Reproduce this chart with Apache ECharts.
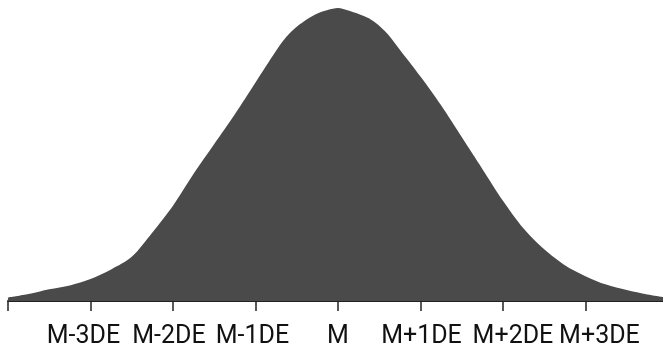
<!DOCTYPE html>
<html>
<head>
<meta charset="utf-8">
<script src="https://cdn.jsdelivr.net/npm/echarts@6/dist/echarts.min.js"></script>
<style>
  html, body { margin: 0; padding: 0; background: #fff; }
  #chart { width: 663px; height: 349px; }
</style>
</head>
<body>
<div id="chart"></div>
<script>
// distance from the mean, in standard deviations (DE)
const sigmas = [-4, -3.75, -3.5, -3.25, -3, -2.75, -2.5, -2.25, -2, -1.75, -1.5, -1.25, -1, -0.75, -0.625, -0.5, -0.375, -0.25, -0.125,
  0, 0.125, 0.25, 0.375, 0.5, 0.625, 0.75, 1, 1.25, 1.5, 1.75, 2, 2.25, 2.5, 2.75, 3, 3.25, 3.5, 3.75, 3.94]
// frequency
const freq = [3.5, 7, 11.8, 15.7, 22.2, 31.8, 44.5, 69, 96, 128, 158, 188, 220, 252, 266, 276, 283.6, 289.5, 293,
  295, 292.5, 289, 284.6, 277, 266.5, 253, 226, 197, 165, 133, 101, 73, 52, 36, 25, 16.5, 11, 6.5, 4]
// tick labels from -3 to +3
const tickLabels = ['M-3DE', 'M-2DE', 'M-1DE', 'M', 'M+1DE', 'M+2DE', 'M+3DE']

// labels sit a little off their ticks in the original
const labelShift = [-7, -4, -3, 0, 1, 10, 14]

const chart = echarts.init(document.getElementById('chart'))

const rich = {}
labelShift.forEach((d, i) => {
  rich['s' + i] = {
    fontFamily: 'Roboto',
    fontSize: 25,
    color: '#111',
    padding: d < 0 ? [0, -2 * d, 0, 0] : [0, 0, 0, 2 * d]
  }
})

const option = {
  animation: false,
  grid: { left: 8, right: 0, top: 3, bottom: 48 },
  xAxis: {
    type: 'value',
    min: -4,
    max: 3.94,
    interval: 1,
    splitLine: { show: false },
    axisLine: { lineStyle: { color: '#222', width: 2 } },
    axisTick: { length: 10, lineStyle: { color: '#222', width: 1.5 } },
    axisLabel: {
      margin: 23,
      showMinLabel: true,
      showMaxLabel: false,
      formatter: v => {
        const i = Math.round(v) + 3
        if (i < 0 || i >= tickLabels.length) return ''
        return '{s' + i + '|' + tickLabels[i] + '}'
      },
      rich: rich
    }
  },
  yAxis: {
    type: 'value',
    min: 0,
    max: 300,
    show: false
  },
  series: [
    {
      type: 'line',
      data: sigmas.map((s, i) => [s, freq[i]]),
      smooth: 0.3,
      showSymbol: false,
      lineStyle: { width: 0 },
      areaStyle: { color: '#4a4a4a', opacity: 1 }
    }
  ]
}

chart.setOption(option)
</script>
</body>
</html>
